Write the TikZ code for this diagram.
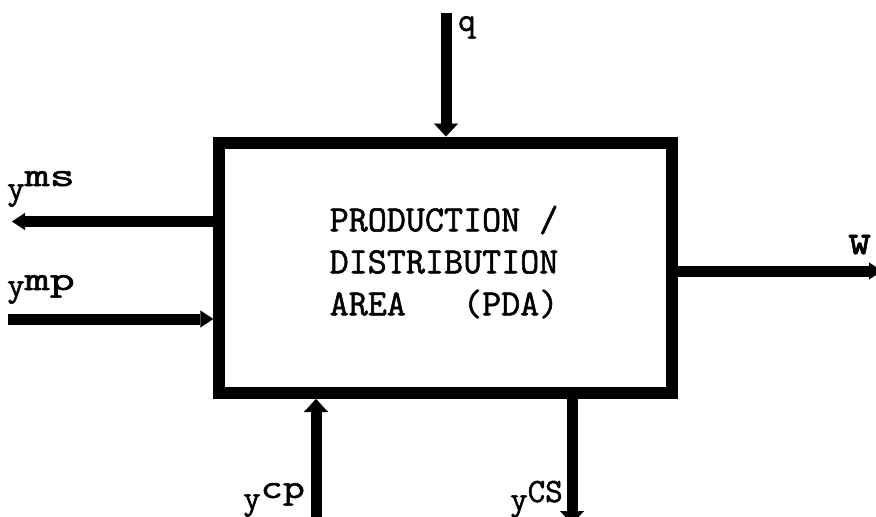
\documentclass[tikz,border=0pt]{standalone}
\usepackage{fontspec}
\usepackage{graphicx}
\usetikzlibrary{arrows.meta,calc}
\newfontfamily\pdamono[FakeBold=1.5]{Latin Modern Mono}
\tikzset{
  boxstyle/.style={draw=black, line width=12pt, minimum width=453pt, minimum height=250.5pt, inner sep=0pt},
  vflow/.style={line width=11pt, -{Triangle[width=24pt,length=13pt,line width=0.1pt]}},
  hflow/.style={line width=11pt, -{Triangle[width=17pt,length=13pt,line width=0.1pt]}},
  lab/.style={inner sep=0pt, anchor=base west, font=\pdamono\fontsize{34}{34}\selectfont},
  maintext/.style={inner sep=0pt, align=left, font=\pdamono\fontsize{37}{42}\selectfont}
}
\begin{document}
\begin{tikzpicture}[x=1pt,y=1pt]
\useasboundingbox (0,0) rectangle (876,-517);
\node[boxstyle] (pda) at (445.75,-267.75) {};
\node[maintext] (pdatext) at (444,-262) {PRODUCTION /\\DISTRIBUTION\\AREA\ \ \ (PDA)};
% connectors
\coordinate (qstart) at (446,-13);
\coordinate (msend) at (12,-221.5);
\coordinate (mpstart) at (8,-319);
\coordinate (wend) at (882,-271);
\coordinate (cpstart) at (316,-522);
\coordinate (csend) at (572,-524);
\draw[vflow] (qstart) -- (qstart |- pda.north);
\draw[hflow] (msend -| pda.west) -- (msend);
\draw[hflow] (mpstart) -- (mpstart -| pda.west);
\draw[hflow] (wend -| pda.east) -- (wend);
\draw[vflow] (cpstart) -- (cpstart |- pda.south);
\draw[vflow] (csend |- pda.south) -- (csend);
% labels
\node[lab] (lq) at (458,-31) {q};
\node[lab] (lms) at (7,-199) {y\raisebox{13pt}{\scalebox{1.43}[1]{ms}}};
\node[lab] (lmp) at (7,-296) {y\raisebox{6pt}{\scalebox{1.43}[1]{mp}}};
\node[lab] (lw) at (848,-254) {\scalebox{1.3}[1.3]{w}};
\node[lab] (lcp) at (243,-509) {y\raisebox{11pt}{\scalebox{1.26}[1]{cp}}};
\node[lab] (lcs) at (510,-510) {y\raisebox{8pt}{CS}};
\end{tikzpicture}
\end{document}
